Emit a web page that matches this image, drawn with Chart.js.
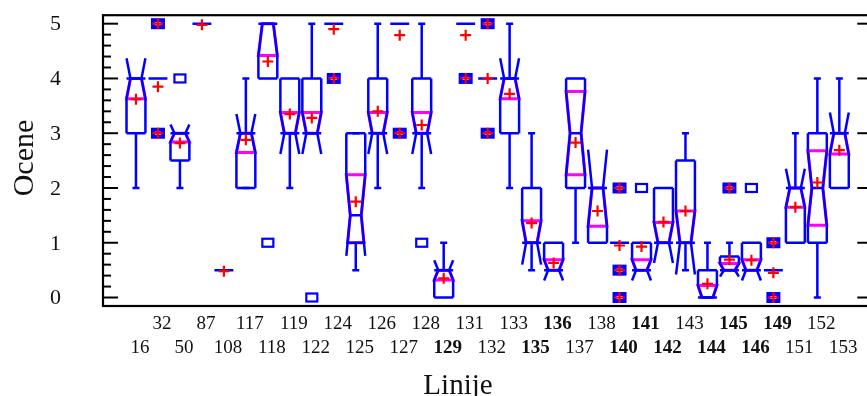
<!DOCTYPE html>
<html>
<head>
<meta charset="utf-8">
<script src="https://cdn.jsdelivr.net/npm/chart.js@4/dist/chart.umd.min.js"></script>
<style>
html, body { margin: 0; padding: 0; overflow: hidden; background: #fff; }
</style>
</head>
<body>
<canvas id="c" width="880" height="396"></canvas>
<script>
var labels = ['16','32','50','87','108','117','118','119','122','124','125','126','127','128','129','131','132',
              '133','135','136','137','138','140','141','142','143','144','145','146','149','151','152','153'];
var boldLabels = ['129','135','136','140','141','142','144','145','146','149'];

// box statistics per line
var q1      = [3, 4, 2.5, 5, 0.5, 2, 4, 3, 3, 5, 1,    3, 5, 3, 0,   5, 4, 3, 1,   0.5, 2,   1,   1, 0.5, 1,   1,   0,   0.5, 0.5, 0.5, 1,   1,   2];
var med     = [4, 4, 3,   5, 0.5, 3, 5, 3, 3, 5, 1.5,  3, 5, 3, 0.5, 5, 4, 4, 1,   0.5, 3,   2,   1, 0.5, 1,   1,   0,   0.5, 0.5, 0.5, 2,   2,   3];
var q3      = [4, 4, 3,   5, 0.5, 3, 5, 4, 4, 5, 3,    4, 5, 4, 0.5, 5, 4, 4, 2,   1,   4,   2,   1, 1,   2,   2.5, 0.5, 0.75, 1,  0.5, 2,   3,   3];
var notch   = [0.37, 0, 0.16, 0, 0, 0.35, 0.58, 0.38, 0.38, 0, 0.74, 0.38, 0, 0.38, 0.18, 0, 0, 0.37, 0.4,
               0.19, 0.76, 0.7, 0, 0.19, 0.37, 0.58, 0.22, 0.12, 0.19, 0, 0.35, 0.68, 0.38];
var whiskLo = [2, null, 2, null, null, 2, null, 2, null, null, 0.5, 2, null, 2, null, null, null, 2, 0.5,
               null, 1, null, null, null, null, 0.5, null, null, null, null, null, 0, null];
var whiskHi = [null, null, null, null, null, 4, null, null, 5, null, 3, 5, null, 5, 1, null, null, 5, 3,
               null, null, null, null, null, null, 3, 1, 1, null, null, 3, 4, 4];
var means   = [3.62, 3.85, 2.82, 4.98, 0.48, 2.88, 4.31, 3.35, 3.28, 4.9, 1.75, 3.4, 4.79, 3.15, 0.35, 4.79, 4.0,
               3.72, 1.36, 0.63, 2.83, 1.58, 0.95, 0.93, 1.38, 1.58, 0.25, 0.69, 0.68, 0.45, 1.65, 2.1, 2.69];

// outside points [line index, value]
var outliers = [[2, 4], [6, 1], [8, 0], [13, 1], [23, 2], [28, 2]];
var farOutliers = [[1, 5], [1, 3], [9, 4], [12, 3], [15, 4], [16, 5], [16, 3], [22, 2], [22, 0.5], [22, 0],
                   [27, 2], [29, 1], [29, 0]];

var BLUE = '#0000ff', MAGENTA = '#ff00ff', RED = '#ff0000';
var FONT = 'Liberation Serif';
var SCORE_MIN = 0, SCORE_MAX = 5;

function seg(ctx, x1, y1, x2, y2) {
  ctx.beginPath(); ctx.moveTo(x1, y1); ctx.lineTo(x2, y2); ctx.stroke();
}

var boxPlugin = {
  id: 'boxes',
  beforeDatasetsDraw: function (chart) {
    var ctx = chart.ctx, xs = chart.scales.x, ys = chart.scales.y, area = chart.chartArea;
    var unit = xs.getPixelForValue(1) - xs.getPixelForValue(0);
    var w = unit * 0.43, d = unit * 0.18, cap = 3.5;
    var Y = function (v) { return ys.getPixelForValue(v); };
    ctx.save();
    ctx.beginPath(); ctx.rect(area.left, area.top, area.right - area.left, area.bottom - area.top); ctx.clip();
    ctx.lineJoin = 'miter';
    for (var i = 0; i < labels.length; i++) {
      var cx = xs.getPixelForValue(i);
      var a = q1[i], m = med[i], b = q3[i], n = notch[i];
      ctx.strokeStyle = BLUE; ctx.lineWidth = 2.5;
      if (whiskHi[i] != null) { seg(ctx, cx, Y(b), cx, Y(whiskHi[i])); seg(ctx, cx - cap, Y(whiskHi[i]), cx + cap, Y(whiskHi[i])); }
      if (whiskLo[i] != null) { seg(ctx, cx, Y(a), cx, Y(whiskLo[i])); seg(ctx, cx - cap, Y(whiskLo[i]), cx + cap, Y(whiskLo[i])); }
      if (n === 0) { seg(ctx, cx - w, Y(m), cx + w, Y(m)); continue; }
      // notch limits, cut at the score range
      var hi = Math.min(m + n, SCORE_MAX), lo = Math.max(m - n, SCORE_MIN);
      var off = function (v) { return w - d * (1 - Math.abs(v - m) / n); };
      var top = Math.min(hi, b), bot = Math.max(lo, a);
      // notch interval (magenta)
      ctx.strokeStyle = MAGENTA; ctx.lineWidth = 3;
      ctx.beginPath();
      ctx.moveTo(cx - off(top), Y(top));
      ctx.lineTo(cx - (w - d), Y(m));
      ctx.lineTo(cx - off(bot), Y(bot));
      ctx.lineTo(cx + off(bot), Y(bot));
      ctx.lineTo(cx + (w - d), Y(m));
      ctx.lineTo(cx + off(top), Y(top));
      ctx.closePath(); ctx.stroke();
      // notched box (blue)
      ctx.strokeStyle = BLUE; ctx.lineWidth = 2.5;
      [-1, 1].forEach(function (s) {
        ctx.beginPath();
        if (hi < b) { ctx.moveTo(cx + s * w, Y(b)); ctx.lineTo(cx + s * w, Y(hi)); }
        else ctx.moveTo(cx + s * off(hi), Y(hi));
        ctx.lineTo(cx + s * (w - d), Y(m));
        ctx.lineTo(cx + s * off(lo), Y(lo));
        if (lo > a) ctx.lineTo(cx + s * w, Y(a));
        ctx.stroke();
      });
      seg(ctx, cx - w, Y(a), cx + w, Y(a));
      seg(ctx, cx - w, Y(b), cx + w, Y(b));
      seg(ctx, cx - (w - d), Y(m), cx + (w - d), Y(m));
    }
    // outside points
    ctx.strokeStyle = BLUE;
    outliers.forEach(function (o) {
      var x = xs.getPixelForValue(o[0]), y = Y(o[1]);
      ctx.lineWidth = 2.2; ctx.strokeRect(x - 5.5, y - 4, 11, 8);
    });
    farOutliers.forEach(function (o) {
      var x = xs.getPixelForValue(o[0]), y = Y(o[1]);
      ctx.lineWidth = 4; ctx.strokeRect(x - 5, y - 3.5, 10, 7);
    });
    ctx.restore();
  },
  afterDraw: function (chart) {
    var ctx = chart.ctx, ys = chart.scales.y, a = chart.chartArea;
    ctx.save();
    ctx.strokeStyle = '#000'; ctx.lineWidth = 2.2;
    ctx.strokeRect(a.left, a.top, a.right - a.left, a.bottom - a.top);
    ctx.lineWidth = 2;
    for (var k = 0; k <= 25; k++) {
      var v = k * 0.2, y = ys.getPixelForValue(v);
      var major = k % 5 === 0;
      seg(ctx, a.left, y, a.left + (major ? 15 : 8), y);
      if (major) seg(ctx, a.right, y, a.right - 15, y);
    }
    ctx.fillStyle = '#111';
    ctx.font = '29px "' + FONT + '"';
    ctx.textAlign = 'center'; ctx.textBaseline = 'alphabetic';
    ctx.fillText('Linije', 458, 394);
    ctx.translate(33, 158);
    ctx.rotate(-Math.PI / 2);
    ctx.font = '30px "' + FONT + '"';
    ctx.fillText('Ocene', 0, 0);
    ctx.restore();
  }
};

new Chart(document.getElementById('c'), {
  type: 'scatter',
  data: {
    datasets: [{
      data: means.map(function (v, i) { return { x: i, y: v }; }),
      pointStyle: 'cross', pointRadius: 5.5, pointBorderWidth: 2.2,
      borderColor: RED, backgroundColor: RED
    }, {
      data: farOutliers.map(function (o) { return { x: o[0], y: o[1] }; }),
      pointStyle: 'cross', pointRadius: 5.5, pointBorderWidth: 2.2,
      borderColor: RED, backgroundColor: RED
    }]
  },
  options: {
    responsive: false,
    animation: false,
    layout: { padding: { top: 15, right: 3, left: 0, bottom: 0 } },
    plugins: { legend: { display: false }, tooltip: { enabled: false } },
    scales: {
      x: {
        type: 'linear', min: -1.5, max: 33.5,
        afterBuildTicks: function (s) { s.ticks = labels.map(function (l, i) { return { value: i }; }); },
        afterFit: function (s) { s.height = 90; },
        grid: { display: false, drawTicks: true, tickLength: 4 },
        border: { display: false },
        ticks: {
          autoSkip: false, maxRotation: 0, minRotation: 0, padding: 2, labelOffset: 4, color: '#111',
          callback: function (v) {
            var i = Math.round(v);
            return i % 2 === 0 ? ['', labels[i]] : [labels[i], ''];
          },
          font: function (c) {
            var l = labels[c.index];
            return { family: FONT, size: 19, lineHeight: 1.26, weight: boldLabels.indexOf(l) >= 0 ? 'bold' : 'normal' };
          }
        }
      },
      y: {
        min: -0.155, max: 5.155,
        afterBuildTicks: function (s) { s.ticks = [0, 1, 2, 3, 4, 5].map(function (v) { return { value: v }; }); },
        afterFit: function (s) { s.width = 103; },
        grid: { display: false, drawTicks: true, tickLength: 40 },
        border: { display: false },
        ticks: { padding: 2, labelOffset: 1, color: '#111', font: { family: FONT, size: 22 } }
      }
    }
  },
  plugins: [boxPlugin]
});
</script>
</body>
</html>
